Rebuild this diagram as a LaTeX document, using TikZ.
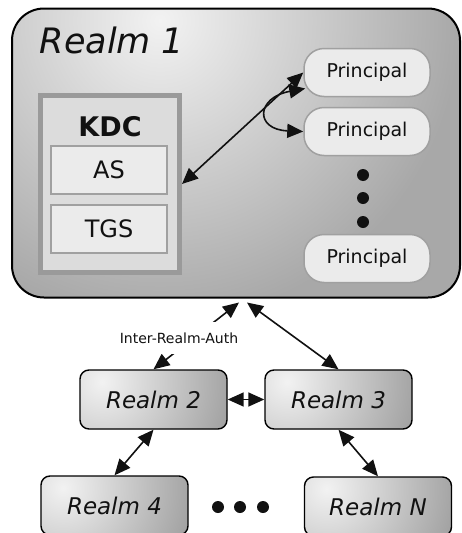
\documentclass[tikz,border=0pt]{standalone}
\usepackage{fontspec}
\setmainfont{DejaVu Sans}
\usetikzlibrary{arrows.meta,calc}

\definecolor{inkblack}{HTML}{111111}
\definecolor{boxfill}{HTML}{EBEBEB}
\definecolor{boxline}{HTML}{A0A0A0}
\definecolor{kdcfill}{HTML}{DCDCDC}
\definecolor{kdcline}{HTML}{9A9A9A}
\definecolor{glowlight}{HTML}{F2F2F2}
\definecolor{glowdark}{HTML}{A8A8A8}
\definecolor{smalldark}{HTML}{999999}

\begin{document}
\begin{tikzpicture}[x=1pt,y=-1pt,
  tip/.tip={Triangle[length=16pt,width=14pt]},
  link/.style={line width=1.6pt, draw=inkblack, tip-tip},
  bigrealm/.style={draw=black, line width=2pt, rounded corners=32pt,
    minimum width=448pt, minimum height=289pt, inner sep=0pt,
    path picture={
      \fill[glowdark] (path picture bounding box.south west) rectangle (path picture bounding box.north east);
      \shade[inner color=glowlight, outer color=glowdark]
      ($(path picture bounding box.north west)+(148,12)$) circle[radius=300pt];}},
  realmbox/.style={draw=black, line width=1.4pt, rounded corners=9pt,
    minimum width=147pt, minimum height=59pt, text=inkblack,
    font=\itshape\fontsize{23}{23}\selectfont,
    path picture={
      \fill[smalldark] (path picture bounding box.south west) rectangle (path picture bounding box.north east);
      \shade[inner color=glowlight, outer color=smalldark]
      ($(path picture bounding box.north west)+(22,12)$) circle[radius=145pt];}},
  kdcbox/.style={draw=kdcline, fill=kdcfill, line width=5pt,
    minimum width=139pt, minimum height=177pt, inner sep=0pt},
  servicebox/.style={draw=boxline, fill=boxfill, line width=2pt,
    minimum width=116pt, minimum height=48pt, text=inkblack,
    font=\fontsize{24}{24}\selectfont},
  principal/.style={draw=boxline, fill=boxfill, line width=1.5pt,
    rounded corners=20pt, minimum width=126pt, minimum height=48pt,
    text=inkblack, font=\fontsize{19}{19}\selectfont},
  bigdot/.style={circle, fill=inkblack, inner sep=0pt, minimum size=12pt}
]
\clip (0,0) rectangle (462,533);

% Realm 1 container with its key distribution center
\node[bigrealm] (realm1) at (236,153) {};
\node[font=\itshape\fontsize{35}{35}\selectfont, text=inkblack, anchor=base]
  (realm1title) at (112,53) {Realm 1};

\node[kdcbox] (kdc) at (110,184) {};
\node[font=\bfseries\fontsize{27}{27}\selectfont, text=inkblack] (kdctitle) at (110,127) {KDC};
\node[servicebox] (as) at (109,170) {AS};
\node[servicebox] (tgs) at (109,228.5) {TGS};

% principals of realm 1
\node[principal] (p1) at (367,72.5) {Principal};
\node[principal] (p2) at (367,131.5) {Principal};
\node[principal] (p3) at (367,258.5) {Principal};
\node[bigdot] (pd1) at (363,175) {};
\node[bigdot] (pd2) at (363,198) {};
\node[bigdot] (pd3) at (363,222) {};

\draw[link] (kdc.east) -- (p1.west);
\draw[link] ($(p1.west)+(2,16)$) .. controls +(-49,9) and +(-49,-2) .. (p2.west);

% neighbouring realms
\node[realmbox] (r2) at (153.5,399.5) {Realm 2};
\node[realmbox] (r3) at (338.5,399.5) {Realm 3};
\node[realmbox] (r4) at (114.5,505.5) {Realm 4};
\node[realmbox] (rn) at (378,506.5) {Realm N};
\node[bigdot] (rd1) at (218,507) {};
\node[bigdot] (rd2) at (240,507) {};
\node[bigdot] (rd3) at (263,507) {};

\coordinate (r1from2) at ($(realm1.south)+(3,4)$);
\coordinate (r1from3) at ($(realm1.south)+(11,4)$);

\draw[link] (r2.north) -- (r1from2);
\node[font=\fontsize{14}{14}\selectfont, text=inkblack, fill=white,
  inner xsep=2pt, inner ysep=11pt] (authlabel) at (179,338) {Inter-Realm-Auth};
\draw[link] (r3.north) -- (r1from3);
\draw[link] (r2.east) -- (r3.west);
\draw[link] (r2.south) -- (r4.north);
\draw[link] (r3.south) -- (rn.north);
\end{tikzpicture}
\end{document}
